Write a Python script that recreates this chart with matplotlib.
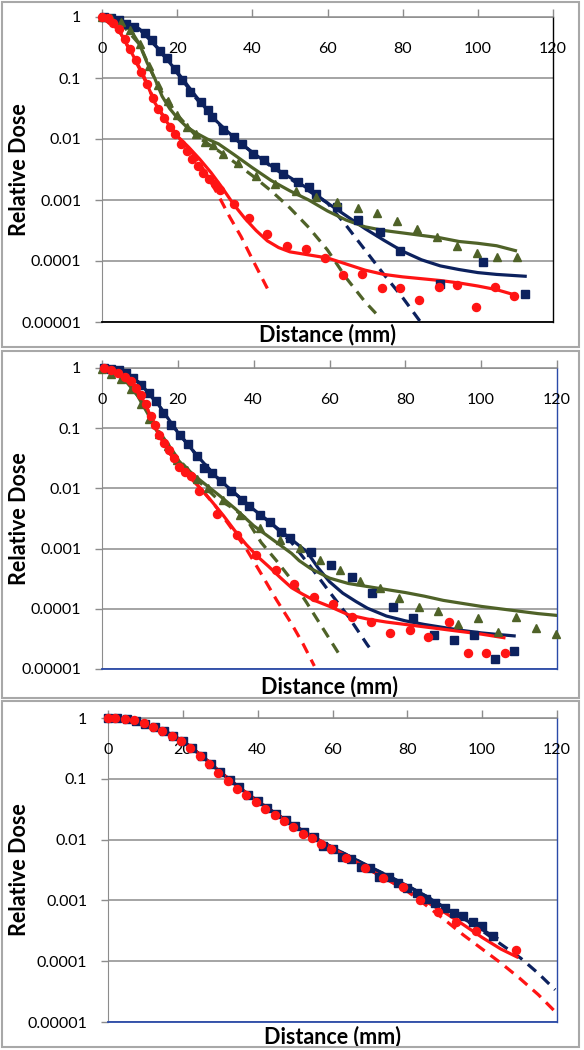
#!/usr/bin/env python3
"""
Relative dose vs distance, three stacked log panels
"""

import numpy as np
import matplotlib
matplotlib.use("Agg")
import matplotlib.pyplot as plt
from matplotlib.patches import Rectangle

plt.rcParams['font.family'] = ['Lato', 'DejaVu Sans']

NAVY = '#0c215e'
OLIVE = '#4f6228'
RED = '#ff1414'
GRID = '#8c8c8c'

# values are read as log10(relative dose)

# ---- panel 1 ----
p1_navy_pts_x = [0.5, 2.5, 4.5, 6.4, 8.4, 11.4, 13.4, 15.4, 17.4, 19.3, 21.3, 23.3, 26.3, 28.3,
                 29.3, 32.2, 35.2, 37.2, 40.2, 43.2, 46.1, 48.1, 52.1, 55.1, 57.0, 62.5, 68.0,
                 73.9, 79.4, 90.0, 101.4, 112.6]
p1_navy_pts_y = [0, -0.01, -0.05, -0.11, -0.16, -0.27, -0.38, -0.55, -0.68, -0.85, -1.04, -1.23,
                 -1.39, -1.53, -1.64, -1.86, -1.97, -2.08, -2.24, -2.35, -2.46, -2.57, -2.70,
                 -2.79, -2.90, -3.11, -3.33, -3.52, -3.83, -4.38, -4.02, -4.54]
p1_navy_fit_x = [0, 5, 10, 15, 20, 25, 30, 35, 40, 45, 50, 55, 60, 65, 70, 75, 80, 85, 90, 95,
                 100, 105, 112.6]
p1_navy_fit_y = [0, -0.06, -0.2, -0.52, -0.9, -1.3, -1.68, -1.97, -2.22, -2.44, -2.63, -2.82,
                 -3.05, -3.26, -3.47, -3.66, -3.84, -3.98, -4.08, -4.14, -4.19, -4.22, -4.25]
p1_navy_dash_x = [0, 5, 10, 15, 20, 25, 30, 35, 40, 45, 50, 55, 60, 65, 70, 75, 80, 85]
p1_navy_dash_y = [0, -0.07, -0.2, -0.52, -0.92, -1.33, -1.7, -1.98, -2.22, -2.45, -2.65, -2.85,
                  -3.05, -3.42, -3.82, -4.22, -4.6, -5.02]

p1_olive_pts_x = [0, 2.5, 5, 7.5, 10, 12.5, 15, 17.5, 20, 22.5, 25, 27.5, 29.5, 32.2, 36.1, 41,
                  46, 51.5, 57, 62.5, 68, 73.2, 78.5, 83.8, 89.2, 94.4, 99.8, 105.1, 110.4]
p1_olive_pts_y = [0, -0.02, -0.08, -0.22, -0.45, -0.8, -1.12, -1.38, -1.6, -1.8, -1.92, -2.05,
                  -2.1, -2.24, -2.4, -2.6, -2.74, -2.85, -2.95, -3.03, -3.13, -3.22, -3.35,
                  -3.48, -3.6, -3.76, -3.87, -3.93, -3.94]
p1_olive_fit_x = [0, 3, 6, 8, 10, 12, 14, 16, 18, 20, 22.5, 25, 28, 31, 35, 40, 45, 50, 55, 60,
                  65, 70, 75, 80, 85, 90, 95, 100, 105, 110]
p1_olive_fit_y = [0, -0.02, -0.12, -0.25, -0.45, -0.75, -1.0, -1.3, -1.5, -1.65, -1.8, -1.9,
                  -2.0, -2.08, -2.25, -2.47, -2.68, -2.85, -3.0, -3.18, -3.33, -3.44, -3.5,
                  -3.54, -3.58, -3.62, -3.68, -3.71, -3.75, -3.83]
p1_olive_dash_x = [0, 5, 10, 15, 20, 25, 30, 35, 40, 45, 50, 55, 60, 65, 70, 73.5]
p1_olive_dash_y = [0, -0.1, -0.45, -1.15, -1.6, -1.95, -2.15, -2.37, -2.6, -2.85, -3.13, -3.45,
                   -3.82, -4.28, -4.67, -4.9]

p1_red_pts_x = [0, 1.5, 3, 4.5, 6, 7.5, 9, 10.5, 12, 13.5, 15, 16.5, 18, 19.5, 21, 22.5, 24,
                25.5, 27, 28.5, 30, 31.5, 35, 39.1, 44, 49.1, 54.2, 59.3, 64.2, 69.1, 74.4, 79.4,
                84.3, 89.6, 94.5, 99.6, 104.6, 109.6]
p1_red_pts_y = [0, -0.02, -0.1, -0.2, -0.36, -0.52, -0.7, -0.9, -1.1, -1.32, -1.5, -1.66, -1.8,
                -1.92, -2.08, -2.2, -2.32, -2.45, -2.56, -2.66, -2.74, -2.84, -3.07, -3.29, -3.55,
                -3.75, -3.81, -3.95, -4.23, -4.21, -4.44, -4.44, -4.64, -4.43, -4.4, -4.76, -4.43,
                -4.57]
p1_red_fit_x = [0, 2, 5, 8, 11, 14, 17, 20, 23, 26, 29, 32, 35, 38, 41, 44, 47, 50, 55, 60, 65,
                70, 75, 80, 85, 90, 95, 100, 105, 109.5]
p1_red_fit_y = [0, -0.05, -0.27, -0.6, -0.95, -1.4, -1.7, -1.95, -2.13, -2.33, -2.55, -2.8,
                -3.07, -3.3, -3.5, -3.67, -3.78, -3.85, -3.9, -3.95, -4.05, -4.15, -4.22, -4.26,
                -4.29, -4.32, -4.36, -4.41, -4.47, -4.55]
p1_red_dash_x = [0, 5, 10, 15, 20, 25, 28, 31, 34, 37, 40, 44]
p1_red_dash_y = [0, -0.27, -0.85, -1.5, -1.95, -2.3, -2.6, -2.93, -3.28, -3.6, -3.97, -4.45]

# ---- panel 2 ----
p2_navy_pts_x = [0.5, 2.4, 4.4, 6.4, 8.3, 10.3, 12.3, 14.2, 16.2, 18.2, 20.6, 22.6, 25, 27, 29,
                 31.4, 33.9, 36.8, 38.8, 41.7, 44.2, 47.2, 49.6, 55.2, 60.5, 65.9, 71.2, 76.7,
                 82, 87.5, 92.8, 98, 103.6, 108.7]
p2_navy_pts_y = [0, -0.01, -0.04, -0.08, -0.17, -0.28, -0.42, -0.55, -0.75, -0.94, -1.11, -1.27,
                 -1.47, -1.66, -1.75, -1.88, -2.05, -2.19, -2.3, -2.44, -2.55, -2.72, -2.83,
                 -3.06, -3.28, -3.47, -3.74, -3.97, -4.16, -4.43, -4.51, -4.44, -4.83, -4.7]
p2_navy_fit_x = [0, 5, 10, 15, 20, 25, 30, 35, 40, 45, 50, 54, 57, 60, 63.5, 67, 70, 75, 80, 85,
                 90, 95, 100, 105, 108.7]
p2_navy_fit_y = [0, -0.05, -0.25, -0.62, -1.07, -1.45, -1.8, -2.08, -2.35, -2.6, -2.85, -3.05,
                 -3.32, -3.55, -3.74, -3.88, -3.99, -4.12, -4.2, -4.26, -4.31, -4.36, -4.4,
                 -4.43, -4.45]
p2_navy_dash_x = [0, 5, 10, 15, 20, 25, 30, 35, 40, 45, 50, 55, 60, 65, 70, 71.2]
p2_navy_dash_y = [0, -0.05, -0.25, -0.62, -1.07, -1.45, -1.8, -2.08, -2.35, -2.6, -2.9, -3.3,
                  -3.72, -4.13, -4.6, -4.7]

p2_olive_pts_x = [0, 2.3, 5, 7.6, 10.2, 12.4, 15.1, 17.3, 19.9, 22.5, 25, 28, 31.9, 36.5, 41.7,
                  47, 52.1, 57.5, 62.7, 68, 73.2, 78.2, 83.5, 88.6, 93.9, 99.1, 104.4, 109.3,
                  114.4, 119.8]
p2_olive_pts_y = [-0.02, -0.1, -0.18, -0.35, -0.6, -0.85, -1.1, -1.3, -1.52, -1.69, -1.85, -2.0,
                  -2.2, -2.45, -2.66, -2.85, -2.99, -3.19, -3.36, -3.53, -3.66, -3.82, -3.97,
                  -4.03, -4.25, -4.16, -4.38, -4.13, -4.32, -4.42]
p2_olive_fit_x = [0, 3, 6, 9, 12, 14, 16, 18, 20, 22.5, 25, 28, 31, 35, 40, 45, 50, 52, 55, 60,
                  65, 70, 75, 80, 85, 90, 95, 100, 105, 110, 115, 120]
p2_olive_fit_y = [0, -0.08, -0.2, -0.42, -0.75, -1.0, -1.2, -1.38, -1.53, -1.68, -1.82, -1.97,
                  -2.12, -2.33, -2.62, -2.85, -3.08, -3.2, -3.33, -3.49, -3.58, -3.63, -3.68,
                  -3.73, -3.79, -3.86, -3.91, -3.96, -4.0, -4.04, -4.08, -4.11]
p2_olive_dash_x = [0, 5, 10, 15, 20, 25, 30, 35, 38, 42, 46, 50, 54, 58, 62, 63]
p2_olive_dash_y = [0, -0.15, -0.5, -1.05, -1.5, -1.85, -2.15, -2.35, -2.5, -2.9, -3.2, -3.52,
                   -3.9, -4.3, -4.7, -4.8]

p2_red_pts_x = [0.6, 2.3, 4.1, 6, 7.6, 9, 10.2, 11.5, 12.9, 14, 15.1, 16.4, 17.7, 19, 20.3,
                21.8, 23.4, 25.7, 30.4, 35.5, 40.7, 45.9, 50.7, 55.9, 60.9, 65.9, 71, 76, 81.1,
                86.1, 91.4, 96.4, 101.3, 106.3]
p2_red_pts_y = [0, -0.04, -0.08, -0.15, -0.22, -0.33, -0.45, -0.6, -0.8, -0.95, -1.11, -1.24,
                -1.36, -1.5, -1.64, -1.72, -1.8, -2.04, -2.43, -2.77, -3.1, -3.36, -3.58, -3.8,
                -3.92, -4.13, -4.22, -4.41, -4.35, -4.47, -4.22, -4.74, -4.74, -4.74]
p2_red_fit_x = [0, 4, 8, 11, 13, 15, 17, 19, 21, 23, 26, 29, 32, 35, 38, 41, 44, 47, 50, 53, 56,
                60, 65, 70, 75, 80, 85, 90, 95, 100, 106]
p2_red_fit_y = [0, -0.1, -0.28, -0.55, -0.82, -1.1, -1.33, -1.52, -1.67, -1.8, -2.0, -2.22,
                -2.45, -2.7, -2.93, -3.13, -3.3, -3.48, -3.65, -3.76, -3.86, -3.96, -4.1, -4.17,
                -4.22, -4.26, -4.3, -4.34, -4.38, -4.42, -4.48]
p2_red_dash_x = [0, 4, 8, 11, 13, 15, 17, 19, 21, 23, 26, 30, 34, 38, 42, 46, 50, 53, 56]
p2_red_dash_y = [0, -0.1, -0.28, -0.55, -0.82, -1.1, -1.33, -1.52, -1.67, -1.8, -2.0, -2.3,
                 -2.65, -3.0, -3.42, -3.85, -4.25, -4.58, -4.95]

# ---- panel 3 ----
p3_navy_pts_x = [0, 2.5, 5, 7.5, 10, 12.5, 15, 17.5, 20, 22.5, 25, 27.5, 30, 32.5, 35, 37.5, 40,
                 42.5, 45, 47.5, 50, 52.5, 55, 57.5, 60, 62.5, 65, 67.5, 70, 72.5, 75, 77.5, 80,
                 82.5, 85, 87.5, 90, 92.5, 95, 97.5, 100, 103]
p3_navy_pts_y = [0, 0, -0.02, -0.05, -0.1, -0.15, -0.21, -0.29, -0.38, -0.5, -0.62, -0.76,
                 -0.89, -1.02, -1.14, -1.26, -1.37, -1.48, -1.58, -1.68, -1.78, -1.88, -1.96,
                 -2.1, -2.15, -2.28, -2.32, -2.45, -2.46, -2.62, -2.62, -2.72, -2.8, -2.88,
                 -2.97, -3.05, -3.12, -3.2, -3.26, -3.36, -3.42, -3.58]
p3_navy_fit_x = [0, 5, 10, 15, 20, 25, 30, 35, 40, 45, 50, 55, 60, 65, 70, 75, 80, 85, 90, 95,
                 100, 103.9]
p3_navy_fit_y = [0, -0.01, -0.1, -0.21, -0.38, -0.62, -0.89, -1.14, -1.37, -1.58, -1.78, -1.96,
                 -2.13, -2.29, -2.45, -2.6, -2.76, -2.93, -3.12, -3.3, -3.48, -3.62]
p3_navy_dash_x = [0, 5, 10, 15, 20, 25, 30, 35, 40, 45, 50, 55, 60, 65, 70, 75, 80, 85, 90, 95,
                  100, 105, 110.3, 115, 119.5]
p3_navy_dash_y = [0, -0.01, -0.1, -0.21, -0.38, -0.62, -0.89, -1.14, -1.37, -1.58, -1.78,
                  -1.96, -2.13, -2.29, -2.45, -2.6, -2.76, -2.93, -3.12, -3.3, -3.5, -3.72,
                  -3.95, -4.2, -4.47]

p3_red_pts_x = [0, 2, 4.5, 7, 9.5, 12, 14.5, 17, 19.5, 22, 24.5, 27, 29.5, 32, 34.5, 37, 39.5,
                42, 44.5, 47, 49.5, 52, 54.5, 57, 59.5, 63.7, 68.6, 73.5, 78.8, 83.3, 88.2,
                93.1, 98.4, 109.1]
p3_red_pts_y = [0, 0, -0.01, -0.04, -0.09, -0.14, -0.21, -0.29, -0.38, -0.5, -0.62, -0.76, -0.9,
                -1.03, -1.16, -1.27, -1.38, -1.49, -1.59, -1.7, -1.8, -1.9, -1.98, -2.07, -2.16,
                -2.31, -2.47, -2.63, -2.78, -2.99, -3.19, -3.35, -3.51, -3.81]
p3_red_fit_x = [0, 5, 10, 15, 20, 25, 30, 35, 40, 45, 50, 55, 60, 65, 70, 75, 80, 85, 90, 95,
                100, 105, 109.3]
p3_red_fit_y = [0, -0.01, -0.1, -0.21, -0.38, -0.62, -0.89, -1.14, -1.37, -1.58, -1.78, -1.96,
                -2.14, -2.32, -2.5, -2.67, -2.84, -3.02, -3.2, -3.4, -3.61, -3.8, -3.93]
p3_red_dash_x = [0, 5, 10, 15, 20, 25, 30, 35, 40, 45, 50, 55, 60, 65, 70, 75, 80, 85, 90, 95,
                 100, 105, 110, 115, 120]
p3_red_dash_y = [0, -0.01, -0.1, -0.21, -0.38, -0.62, -0.89, -1.14, -1.37, -1.58, -1.78, -1.96,
                 -2.14, -2.32, -2.5, -2.67, -2.85, -3.08, -3.32, -3.57, -3.8, -4.03, -4.28,
                 -4.55, -4.86]

x_ticks = [0, 20, 40, 60, 80, 100, 120]
y_ticks = [1, 0.1, 0.01, 0.001, 0.0001, 0.00001]
y_labels = ['1', '0.1', '0.01', '0.001', '0.0001', '0.00001']


def dose(vals):
    return 10.0 ** np.asarray(vals)


def draw_panel(ax, series, edge):
    """
    series: list of (color, marker, pts_x, pts_y, fit_x, fit_y, dash_x, dash_y)
    """
    for col, mk, px, py, fx, fy, dx, dy in series:
        ax.plot(dx, dose(dy), color=col, lw=2.3, dashes=(3.4, 2.3), zorder=3)
        ax.plot(fx, dose(fy), color=col, lw=2.3, zorder=4)
        ax.plot(px, dose(py), ls='none', marker=mk, ms=5.8, color=col, mec=col,
                zorder=5, clip_on=False)

    ax.set_yscale('log')
    ax.set_xlim(0, 120)
    ax.set_ylim(1e-5, 1)
    ax.set_yticks(y_ticks)
    ax.set_yticklabels(y_labels)
    ax.minorticks_off()
    ax.tick_params(axis='y', direction='out', length=5, width=1, color=GRID,
                   labelsize=11.5, pad=10)
    ax.set_xticks(x_ticks)
    ax.tick_params(axis='x', top=True, bottom=False, labelbottom=False, labeltop=False,
                   direction='out', length=6, width=1, color=GRID)
    for xt in x_ticks:
        ax.text(xt, 0.895, str(xt), transform=ax.get_xaxis_transform(),
                ha='center', va='center', fontsize=11.5)
    ax.grid(axis='y', color=GRID, lw=1.1)
    ax.set_axisbelow(True)

    ax.spines['left'].set_color(GRID)
    ax.spines['top'].set_color(GRID)
    ax.spines['top'].set_linewidth(1.1)
    ax.spines['right'].set_color(edge)
    ax.spines['bottom'].set_color(edge)
    ax.spines['right'].set_linewidth(1.0)
    ax.spines['bottom'].set_linewidth(1.3)

    ax.set_ylabel('Relative Dose', fontsize=15.5, fontweight='bold')
    ax.set_xlabel('Distance (mm)', fontsize=15.5, fontweight='bold')


W, H = 584, 1050
fig = plt.figure(figsize=(W / 100, H / 100), dpi=100)

# axes boxes in pixels: left, top, right, bottom
boxes = [(102, 17, 553, 322), (102, 368, 557, 669), (108, 718, 557, 1022)]
frames = [(2, 2, 579, 347), (2, 351, 579, 698), (2, 701, 579, 1047)]

axes = []
for (l, t, r, b) in boxes:
    axes.append(fig.add_axes([l / W, 1 - b / H, (r - l) / W, (b - t) / H]))

for (l, t, r, b) in frames:
    fig.add_artist(Rectangle((l / W, 1 - b / H), (r - l) / W, (b - t) / H,
                             transform=fig.transFigure, fill=False,
                             edgecolor='#a8a8a8', lw=1.5))

draw_panel(axes[0], [
    (NAVY, 's', p1_navy_pts_x, p1_navy_pts_y, p1_navy_fit_x, p1_navy_fit_y,
     p1_navy_dash_x, p1_navy_dash_y),
    (OLIVE, '^', p1_olive_pts_x, p1_olive_pts_y, p1_olive_fit_x, p1_olive_fit_y,
     p1_olive_dash_x, p1_olive_dash_y),
    (RED, 'o', p1_red_pts_x, p1_red_pts_y, p1_red_fit_x, p1_red_fit_y,
     p1_red_dash_x, p1_red_dash_y),
], 'black')

draw_panel(axes[1], [
    (NAVY, 's', p2_navy_pts_x, p2_navy_pts_y, p2_navy_fit_x, p2_navy_fit_y,
     p2_navy_dash_x, p2_navy_dash_y),
    (OLIVE, '^', p2_olive_pts_x, p2_olive_pts_y, p2_olive_fit_x, p2_olive_fit_y,
     p2_olive_dash_x, p2_olive_dash_y),
    (RED, 'o', p2_red_pts_x, p2_red_pts_y, p2_red_fit_x, p2_red_fit_y,
     p2_red_dash_x, p2_red_dash_y),
], '#2a4aa8')

draw_panel(axes[2], [
    (NAVY, 's', p3_navy_pts_x, p3_navy_pts_y, p3_navy_fit_x, p3_navy_fit_y,
     p3_navy_dash_x, p3_navy_dash_y),
    (RED, 'o', p3_red_pts_x, p3_red_pts_y, p3_red_fit_x, p3_red_fit_y,
     p3_red_dash_x, p3_red_dash_y),
], '#2a4aa8')

# y label: right edge of the rotated text sits at x=30 px
for ax, (l, t, r, b), lab_y in zip(axes, boxes, [-0.005, -0.022, -0.012]):
    ax.yaxis.set_label_coords((30 - l) / (r - l), 0.5)
    ax.xaxis.set_label_coords(0.5, lab_y)

fig.savefig('out.png', dpi=100)
